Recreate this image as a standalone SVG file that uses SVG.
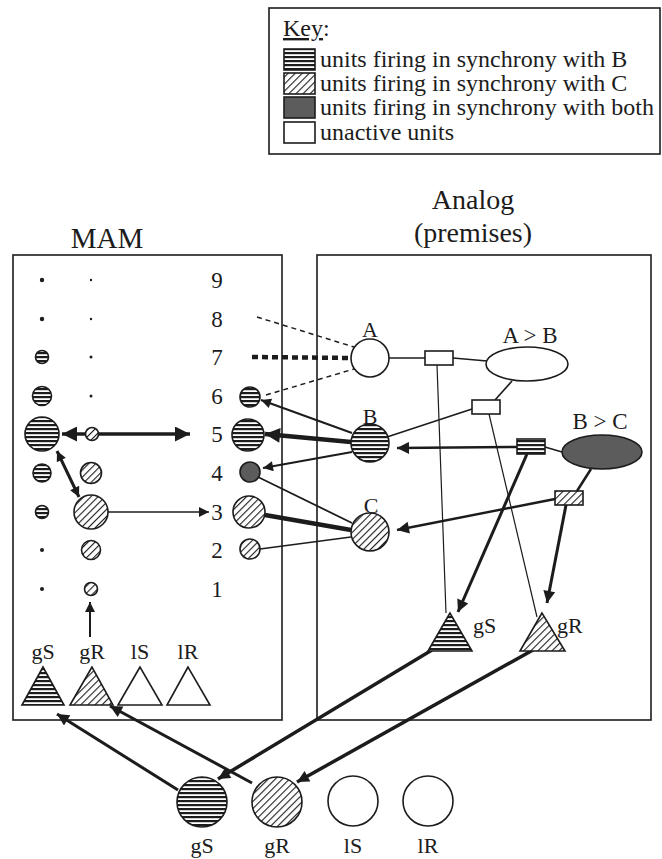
<svg xmlns="http://www.w3.org/2000/svg" width="662" height="859" viewBox="0 0 662 859">
  <style>
    .t { font-family: "Liberation Serif", "Times New Roman", serif; fill: #1c1c1c; }
    .ln { stroke: #1c1c1c; fill: none; }
    .nd { stroke: #1c1c1c; stroke-width: 1.6; }
    .hz { fill: url(#horiz); }
    .dg { fill: url(#diag); }
    .both { fill: #5c5c5c; }
    .off { fill: #ffffff; }
    .dot { fill: #1c1c1c; }
  </style>
  <defs>
    <pattern id="horiz" patternUnits="userSpaceOnUse" width="4" height="4">
      <rect width="4" height="4" fill="#ffffff"/>
      <rect width="4" height="2.2" fill="#1c1c1c"/>
    </pattern>
    <pattern id="diag" patternUnits="userSpaceOnUse" width="5" height="5" patternTransform="rotate(45)">
      <rect width="5" height="5" fill="#ffffff"/>
      <rect width="1.1" height="5" fill="#1c1c1c"/>
    </pattern>
    <marker id="big" viewBox="0 0 10 10" refX="10" refY="5" markerUnits="userSpaceOnUse" markerWidth="22" markerHeight="15" orient="auto-start-reverse">
      <path d="M0,0 L10,5 L0,10 z" fill="#1c1c1c"/>
    </marker>
    <marker id="mid" viewBox="0 0 10 10" refX="10" refY="5" markerUnits="userSpaceOnUse" markerWidth="17" markerHeight="12" orient="auto-start-reverse">
      <path d="M0,0 L10,5 L0,10 z" fill="#1c1c1c"/>
    </marker>
    <marker id="sml" viewBox="0 0 10 10" refX="10" refY="5" markerUnits="userSpaceOnUse" markerWidth="14" markerHeight="10" orient="auto-start-reverse">
      <path d="M0,0 L10,5 L0,10 z" fill="#1c1c1c"/>
    </marker>
  </defs>

  <rect width="662" height="859" fill="#ffffff"/>

  <!-- legend -->
  <g id="key">
    <rect x="269" y="8" width="391" height="146" fill="none" stroke="#1c1c1c" stroke-width="1.6"/>
    <text class="t" x="283" y="36" font-size="24" text-decoration="underline">Key</text>
    <text class="t" x="323" y="36" font-size="24">:</text>
    <rect class="nd hz" x="284" y="49" width="31" height="21"/>
    <rect class="nd dg" x="284" y="73" width="31" height="21"/>
    <rect class="nd both" x="284" y="97" width="31" height="21"/>
    <rect class="nd off" x="284" y="122" width="31" height="21"/>
    <text class="t" x="320" y="67" font-size="24">units firing in synchrony with B</text>
    <text class="t" x="320" y="91" font-size="24">units firing in synchrony with C</text>
    <text class="t" x="320" y="115" font-size="24">units firing in synchrony with both</text>
    <text class="t" x="320" y="140" font-size="24">unactive units</text>
  </g>

  <!-- panel titles and frames -->
  <g id="mam-frame">
    <text class="t" x="107" y="248" font-size="29" text-anchor="middle">MAM</text>
    <rect x="13" y="255" width="269" height="465" fill="none" stroke="#1c1c1c" stroke-width="1.6"/>
  </g>
  <g id="analog-frame">
    <text class="t" x="473" y="209" font-size="28" text-anchor="middle">Analog</text>
    <text class="t" x="473" y="242" font-size="28" text-anchor="middle">(premises)</text>
    <rect x="317" y="255" width="334" height="465" fill="none" stroke="#1c1c1c" stroke-width="1.6"/>
  </g>

  <!-- connectors -->
  <g id="connectors">
    <line class="ln" x1="62" y1="434" x2="190" y2="434" stroke-width="3.5" marker-start="url(#big)" marker-end="url(#big)"/>
    <line class="ln" x1="57" y1="451" x2="79" y2="497" stroke-width="3" marker-start="url(#sml)" marker-end="url(#sml)"/>
    <line class="ln" x1="108" y1="512" x2="209" y2="512" stroke-width="1.5" marker-end="url(#sml)"/>
    <line class="ln" x1="90" y1="637" x2="90" y2="602" stroke-width="2" marker-end="url(#sml)"/>

    <line class="ln" x1="352" y1="433" x2="261" y2="400" stroke-width="2" marker-end="url(#sml)"/>
    <line class="ln" x1="351" y1="442" x2="265" y2="434" stroke-width="4.5" marker-end="url(#big)"/>
    <line class="ln" x1="352" y1="452" x2="263" y2="468" stroke-width="1.8" marker-end="url(#sml)"/>
    <line class="ln" x1="352" y1="523" x2="258" y2="477" stroke-width="1.8"/>
    <line class="ln" x1="351" y1="530" x2="265" y2="515" stroke-width="4.5"/>
    <line class="ln" x1="351" y1="537" x2="260" y2="549" stroke-width="1.5"/>

    <line class="ln" x1="257" y1="317" x2="354" y2="347" stroke-width="1.5" stroke-dasharray="5 4"/>
    <line class="ln" x1="252" y1="357" x2="351" y2="358" stroke-width="4.5" stroke-dasharray="6 4"/>
    <line class="ln" x1="266" y1="395" x2="354" y2="369" stroke-width="1.5" stroke-dasharray="5 4"/>

    <line class="ln" x1="389" y1="358" x2="425" y2="358" stroke-width="1.6"/>
    <line class="ln" x1="453" y1="358" x2="487" y2="361" stroke-width="1.6"/>
    <line class="ln" x1="512" y1="381" x2="495" y2="400" stroke-width="1.6"/>
    <line class="ln" x1="472" y1="409" x2="387" y2="437" stroke-width="1.6"/>
    <line class="ln" x1="562" y1="452" x2="545" y2="447" stroke-width="1.6"/>
    <line class="ln" x1="517" y1="447" x2="397" y2="448" stroke-width="2.5" marker-end="url(#mid)"/>
    <line class="ln" x1="591" y1="469" x2="577" y2="491" stroke-width="2.5"/>
    <line class="ln" x1="555" y1="499" x2="397" y2="530" stroke-width="2.5" marker-end="url(#mid)"/>

    <line class="ln" x1="437" y1="365" x2="446" y2="613" stroke-width="1.2"/>
    <line class="ln" x1="489" y1="414" x2="537" y2="617" stroke-width="1.2"/>
    <line class="ln" x1="527" y1="454" x2="458" y2="612" stroke-width="3" marker-end="url(#mid)"/>
    <line class="ln" x1="566" y1="505" x2="547" y2="603" stroke-width="3" marker-end="url(#mid)"/>

    <line class="ln" x1="432" y1="650" x2="218" y2="779" stroke-width="3.5" marker-end="url(#mid)"/>
    <line class="ln" x1="533" y1="650" x2="297" y2="782" stroke-width="3.5" marker-end="url(#mid)"/>
    <line class="ln" x1="178" y1="790" x2="57" y2="714" stroke-width="3" marker-end="url(#mid)"/>
    <line class="ln" x1="252" y1="783" x2="110" y2="706" stroke-width="3" marker-end="url(#mid)"/>
  </g>

  <!-- MAM: first column of units -->
  <g id="mam-col1">
    <circle class="dot" cx="42" cy="280" r="2.2"/>
    <circle class="dot" cx="42" cy="319" r="2.2"/>
    <circle class="nd hz" cx="42" cy="357" r="6.5"/>
    <circle class="nd hz" cx="42" cy="396" r="9.5"/>
    <circle class="nd hz" cx="42" cy="434" r="17"/>
    <circle class="nd hz" cx="42" cy="473" r="9"/>
    <circle class="nd hz" cx="42" cy="512" r="6.5"/>
    <circle class="dot" cx="42" cy="550" r="2"/>
    <circle class="dot" cx="42" cy="589" r="2"/>
  </g>

  <!-- MAM: second column of units -->
  <g id="mam-col2">
    <circle class="dot" cx="91" cy="280" r="1.2"/>
    <circle class="dot" cx="91" cy="319" r="1.2"/>
    <circle class="dot" cx="91" cy="357" r="1.5"/>
    <circle class="dot" cx="91" cy="396" r="1.5"/>
    <circle class="nd dg" cx="92" cy="434" r="6.5"/>
    <circle class="nd dg" cx="91" cy="473" r="10.5"/>
    <circle class="nd dg" cx="91" cy="512" r="17"/>
    <circle class="nd dg" cx="91" cy="550" r="9.5"/>
    <circle class="nd dg" cx="91" cy="589" r="6.5"/>
  </g>

  <!-- MAM: scale numbers -->
  <g id="mam-scale" class="t" font-size="23" text-anchor="middle">
    <text x="217" y="288">9</text>
    <text x="217" y="327">8</text>
    <text x="217" y="365">7</text>
    <text x="217" y="404">6</text>
    <text x="217" y="442">5</text>
    <text x="217" y="481">4</text>
    <text x="217" y="520">3</text>
    <text x="217" y="558">2</text>
    <text x="217" y="597">1</text>
  </g>

  <!-- MAM: third column of units -->
  <g id="mam-col3">
    <circle class="nd hz" cx="250" cy="397" r="10"/>
    <circle class="nd hz" cx="248" cy="435" r="16"/>
    <circle class="nd both" cx="250" cy="472" r="10"/>
    <circle class="nd dg" cx="249" cy="512" r="16"/>
    <circle class="nd dg" cx="250" cy="549" r="10"/>
  </g>

  <!-- MAM: group units -->
  <g id="mam-gS">
    <polygon class="nd hz" points="43,667 22,705 64,705"/>
    <text class="t" x="43" y="659" font-size="22" text-anchor="middle">gS</text>
  </g>
  <g id="mam-gR">
    <polygon class="nd dg" points="92,667 70,705 113,705"/>
    <text class="t" x="92" y="659" font-size="22" text-anchor="middle">gR</text>
  </g>
  <g id="mam-lS">
    <polygon class="nd off" points="140,667 118,705 162,705"/>
    <text class="t" x="140" y="659" font-size="22" text-anchor="middle">lS</text>
  </g>
  <g id="mam-lR">
    <polygon class="nd off" points="188,667 167,705 210,705"/>
    <text class="t" x="188" y="659" font-size="22" text-anchor="middle">lR</text>
  </g>

  <!-- Analog: objects -->
  <g id="obj-A">
    <circle class="nd off" cx="370" cy="358" r="19"/>
    <text class="t" x="370" y="337" font-size="22" text-anchor="middle">A</text>
  </g>
  <g id="obj-B">
    <circle class="nd hz" cx="370" cy="443" r="19"/>
    <text class="t" x="370" y="424" font-size="22" text-anchor="middle">B</text>
  </g>
  <g id="obj-C">
    <circle class="nd dg" cx="370" cy="532" r="19"/>
    <text class="t" x="371" y="513" font-size="22" text-anchor="middle">C</text>
  </g>

  <!-- Analog: propositions -->
  <g id="prop-AB">
    <ellipse class="nd off" cx="527" cy="364" rx="41" ry="17"/>
    <text class="t" x="530" y="343" font-size="23" text-anchor="middle">A &gt; B</text>
  </g>
  <g id="prop-BC">
    <ellipse class="nd both" cx="602" cy="452" rx="40" ry="17"/>
    <text class="t" x="600" y="429" font-size="23" text-anchor="middle">B &gt; C</text>
  </g>

  <!-- Analog: sub-propositions -->
  <g id="sp-AB-A"><rect class="nd off" x="425" y="351" width="28" height="14"/></g>
  <g id="sp-AB-B"><rect class="nd off" x="472" y="400" width="28" height="14"/></g>
  <g id="sp-BC-B"><rect class="nd hz" x="517" y="439" width="28" height="15"/></g>
  <g id="sp-BC-C"><rect class="nd dg" x="555" y="491" width="28" height="14"/></g>

  <!-- Analog: group units -->
  <g id="an-gS">
    <polygon class="nd hz" points="450,613 428,651 472,651"/>
    <text class="t" x="473" y="633" font-size="22">gS</text>
  </g>
  <g id="an-gR">
    <polygon class="nd dg" points="542,613 520,651 565,651"/>
    <text class="t" x="557" y="633" font-size="22">gR</text>
  </g>

  <!-- semantic units -->
  <g id="sem-gS">
    <circle class="nd hz" cx="202" cy="802" r="25"/>
    <text class="t" x="202" y="853" font-size="22" text-anchor="middle">gS</text>
  </g>
  <g id="sem-gR">
    <circle class="nd dg" cx="277" cy="802" r="25"/>
    <text class="t" x="277" y="853" font-size="22" text-anchor="middle">gR</text>
  </g>
  <g id="sem-lS">
    <circle class="nd off" cx="353" cy="801" r="25"/>
    <text class="t" x="353" y="853" font-size="22" text-anchor="middle">lS</text>
  </g>
  <g id="sem-lR">
    <circle class="nd off" cx="428" cy="801" r="25"/>
    <text class="t" x="428" y="853" font-size="22" text-anchor="middle">lR</text>
  </g>
</svg>
